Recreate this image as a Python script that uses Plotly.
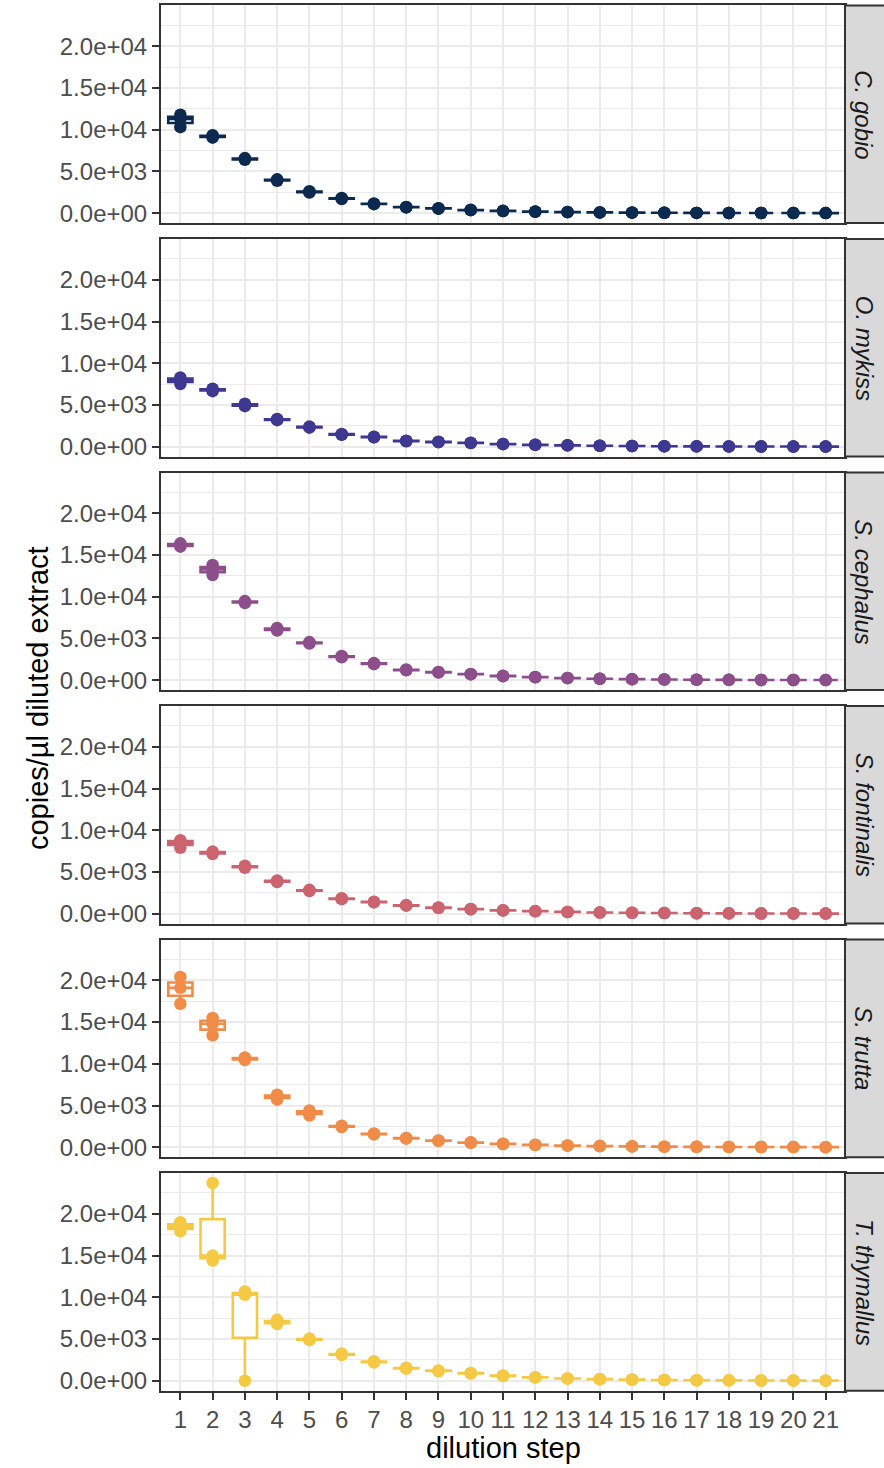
import plotly.graph_objects as go

# ---- data -------------------------------------------------------------
steps = list(range(1, 22))
species = ["C. gobio", "O. mykiss", "S. cephalus", "S. fontinalis", "S. trutta", "T. thymallus"]
colors = ["#0c2a50", "#3e3891", "#8d4f8b", "#cc6470", "#f08c48", "#f6c945"]

# three replicate measurements per dilution step (copies/µl)
c_gobio = [[10300, 11300, 11800], [9050, 9200, 9350], [6400, 6500, 6600], [3880, 3960, 4050],
           [2480, 2540, 2620], [1700, 1750, 1820], [1080, 1110, 1160], [690, 710, 740],
           [540, 560, 590], [360, 375, 395], [250, 262, 275], [172, 180, 190], [118, 124, 130],
           [82, 86, 90], [58, 61, 64], [40, 42, 45], [28, 30, 32], [20, 21, 22], [14, 15, 16],
           [10, 10.5, 11], [7, 7.4, 7.8]]
o_mykiss = [[7500, 8000, 8300], [6650, 6800, 6950], [4850, 5000, 5150], [3180, 3250, 3330],
            [2280, 2340, 2410], [1420, 1470, 1530], [1110, 1150, 1190], [650, 680, 710],
            [540, 560, 590], [430, 450, 470], [300, 315, 330], [215, 225, 238], [150, 158, 166],
            [105, 110, 116], [74, 78, 82], [52, 55, 58], [36, 38, 40], [25, 27, 28], [18, 19, 20],
            [12, 13, 14], [9, 9.4, 10]]
s_cephalus = [[16000, 16200, 16400], [12600, 13300, 13800], [9250, 9360, 9480], [5950, 6100, 6250],
              [4400, 4480, 4570], [2750, 2820, 2900], [1920, 1980, 2050], [1180, 1230, 1280],
              [910, 950, 990], [690, 720, 750], [480, 500, 525], [345, 360, 378], [240, 250, 262],
              [163, 170, 178], [115, 120, 126], [81, 85, 89], [57, 60, 63], [38, 40, 42],
              [28, 30, 32], [19, 20, 21], [14, 15, 16]]
s_fontinalis = [[7900, 8600, 8800], [7150, 7300, 7450], [5500, 5630, 5750], [3800, 3890, 3980],
                [2710, 2780, 2860], [1740, 1790, 1850], [1350, 1390, 1440], [960, 990, 1030],
                [690, 710, 740], [530, 550, 575], [385, 400, 418], [288, 300, 314], [200, 210, 220],
                [143, 150, 158], [105, 110, 116], [76, 80, 84], [52, 55, 58], [38, 40, 42],
                [27, 28, 30], [19, 20, 21], [13, 14, 15]]
s_trutta = [[17200, 19100, 20400], [13400, 14800, 15500], [10450, 10600, 10750], [5700, 6100, 6300],
            [3800, 4200, 4400], [2420, 2500, 2590], [1540, 1590, 1650], [1030, 1070, 1110],
            [760, 790, 820], [540, 560, 585], [385, 400, 418], [268, 280, 293], [190, 200, 210],
            [133, 140, 147], [95, 100, 105], [67, 70, 74], [48, 50, 53], [33, 35, 37],
            [24, 25, 26], [17, 18, 19], [11, 12, 13]]
t_thymallus = [[17900, 18500, 19000], [14400, 15000, 23700], [0, 10300, 10700], [6800, 7000, 7300],
               [4870, 4960, 5060], [3080, 3170, 3260], [2190, 2260, 2330], [1450, 1500, 1560],
               [1140, 1190, 1240], [860, 900, 940], [575, 600, 625], [385, 400, 418], [258, 270, 283],
               [180, 190, 200], [125, 130, 137], [88, 92, 97], [62, 65, 68], [43, 45, 47],
               [30, 32, 34], [21, 22, 23], [15, 16, 17]]
series = [c_gobio, o_mykiss, s_cephalus, s_fontinalis, s_trutta, t_thymallus]

y_tickvals = [0, 5000, 10000, 15000, 20000]
y_ticktext = ["0.0e+00", "5.0e+03", "1.0e+04", "1.5e+04", "2.0e+04"]
y_minor = [2500, 7500, 12500, 17500, 22500]

# ---- layout geometry (pixels) -----------------------------------------
W, H = 884, 1468
PX_L, PX_R = 161, 845
TOP0, PANEL_H, STEP = 5.5, 218, 234
STRIP_R = 884
FONT = "Liberation Sans, Arial, Helvetica, sans-serif"
GRID = "#ebebeb"
DARK = "#333333"

all_vals = [v for s in series for rep in s for v in rep]
vmin, vmax = min(all_vals), max(all_vals)
pad = 0.05 * (vmax - vmin)
y_range = [vmin - pad, vmax + pad]

fig = go.Figure()
layout = dict(
    width=W, height=H, margin=dict(l=0, r=0, t=0, b=0),
    paper_bgcolor="white", plot_bgcolor="white", showlegend=False,
    font=dict(family=FONT),
)
shapes, annotations = [], []

for k, (name, col, data) in enumerate(zip(species, colors, series)):
    top = TOP0 + k * STEP
    bot = top + PANEL_H
    suffix = "" if k == 0 else str(k + 1)
    xa, ya = "x" + suffix, "y" + suffix

    xs = [s for s, rep in zip(steps, data) for _ in rep]
    ys = [v for rep in data for v in rep]

    fig.add_trace(go.Box(
        x=xs, y=ys, xaxis=xa, yaxis=ya, boxpoints=False, width=0.75,
        whiskerwidth=0, fillcolor="white", line=dict(color=col, width=2.6),
        quartilemethod="inclusive", hoverinfo="skip",
    ))
    fig.add_trace(go.Scatter(
        x=xs, y=ys, xaxis=xa, yaxis=ya, mode="markers",
        marker=dict(color=col, size=12.5, line=dict(width=0)), hoverinfo="skip",
    ))

    bottom_panel = k == len(species) - 1
    layout["xaxis" + suffix] = dict(
        domain=[PX_L / W, PX_R / W], anchor=ya, type="linear",
        range=[0.4, 21.6], tickvals=steps, ticktext=[str(s) for s in steps],
        showticklabels=bottom_panel, ticks="outside" if bottom_panel else "",
        ticklen=7, tickwidth=2, tickcolor=DARK,
        tickfont=dict(size=24, color="#4d4d4d", family=FONT),
        showgrid=True, gridcolor=GRID, gridwidth=2, zeroline=False,
        showline=True, linecolor=DARK, linewidth=2, mirror=True,
        matches=None if k == 0 else "x",
    )
    layout["yaxis" + suffix] = dict(
        domain=[1 - bot / H, 1 - top / H], anchor=xa, range=y_range,
        tickvals=y_tickvals, ticktext=y_ticktext,
        ticks="outside", ticklen=7, tickwidth=2, tickcolor=DARK,
        tickfont=dict(size=24, color="#4d4d4d", family=FONT),
        showgrid=True, gridcolor=GRID, gridwidth=2, zeroline=False,
        minor=dict(tickvals=y_minor, showgrid=True, gridcolor=GRID, gridwidth=1, ticks=""),
        showline=True, linecolor=DARK, linewidth=2, mirror=True,
    )

    # facet strip on the right
    shapes.append(dict(
        type="rect", xref="paper", yref="paper",
        x0=PX_R / W, x1=(STRIP_R + 2) / W, y0=1 - bot / H, y1=1 - top / H,
        fillcolor="#d9d9d9", line=dict(color=DARK, width=2), layer="above",
    ))
    annotations.append(dict(
        text="<i>%s</i>" % name, xref="paper", yref="paper",
        x=864 / W, y=1 - (top + bot) / 2 / H, xanchor="center", yanchor="middle",
        textangle=90, showarrow=False,
        font=dict(size=24, color="#1a1a1a", family=FONT),
    ))

annotations.append(dict(
    text="dilution step", xref="paper", yref="paper",
    x=(PX_L + PX_R) / 2 / W, y=1 - 1451 / H, xanchor="center", yanchor="middle",
    showarrow=False, font=dict(size=29, color="black", family=FONT),
))
annotations.append(dict(
    text="copies/µl diluted extract", xref="paper", yref="paper",
    x=38 / W, y=1 - (TOP0 + 5 * STEP + PANEL_H + TOP0) / 2 / H,
    xanchor="center", yanchor="middle", textangle=-90,
    showarrow=False, font=dict(size=29, color="black", family=FONT),
))

layout["shapes"] = shapes
layout["annotations"] = annotations
fig.update_layout(**layout)
fig.write_html("out.html")
